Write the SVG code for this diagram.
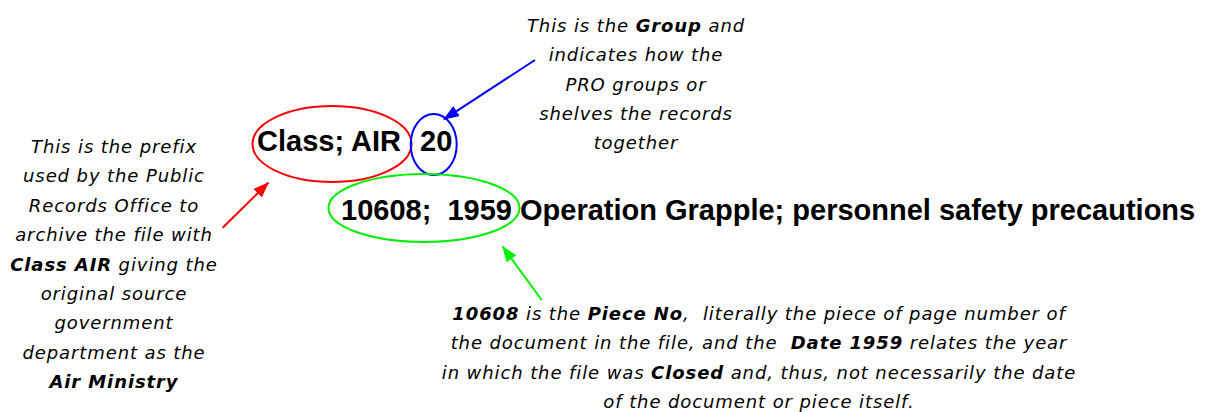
<svg xmlns="http://www.w3.org/2000/svg" width="1207" height="412" viewBox="0 0 1207 412">
<style>
.note{font-family:"DejaVu Sans",sans-serif;font-style:italic;font-size:18px;letter-spacing:0.9px;fill:#000;text-anchor:middle}
.b{font-weight:bold}
.big{font-family:"Liberation Sans",Arial,sans-serif;font-weight:bold;font-size:29px;fill:#000;white-space:pre}
.ell{fill:none;stroke-width:2}
</style>
<defs>
<marker id="ar" viewBox="0 0 16 12" refX="15" refY="6" markerWidth="16" markerHeight="12" markerUnits="userSpaceOnUse" orient="auto"><path d="M0,0 L16,6 L0,12 z" fill="#ff0000"/></marker>
<marker id="ab" viewBox="0 0 16 12" refX="15" refY="6" markerWidth="16" markerHeight="12" markerUnits="userSpaceOnUse" orient="auto"><path d="M0,0 L16,6 L0,12 z" fill="#0000ff"/></marker>
<marker id="ag" viewBox="0 0 16 12" refX="15" refY="6" markerWidth="16" markerHeight="12" markerUnits="userSpaceOnUse" orient="auto"><path d="M0,0 L16,6 L0,12 z" fill="#00ee00"/></marker>
</defs>
<rect width="1207" height="412" fill="#fff"/>
<g id="class">
<ellipse class="ell" cx="332" cy="144" rx="79.5" ry="38" stroke="#ff0000"/>
<text class="big" x="257" y="151">Class; AIR</text>
</g>
<g id="group">
<ellipse class="ell" cx="433.7" cy="144.5" rx="23" ry="30.5" stroke="#0000ff"/>
<text class="big" x="420" y="151">20</text>
</g>
<g id="piece">
<ellipse class="ell" cx="424" cy="208" rx="95.5" ry="34" stroke="#00ee00"/>
<text class="big" x="341" y="220" xml:space="preserve">10608;  1959 Operation Grapple; personnel safety precautions</text>
</g>
<g id="note-class">
<text class="note" x="114" y="153">This is the prefix</text>
<text class="note" x="114" y="182.4">used by the Public</text>
<text class="note" x="114" y="211.8">Records Office to</text>
<text class="note" x="114" y="241.2">archive the file with</text>
<text class="note" x="114" y="270.6"><tspan class="b">Class AIR</tspan> giving the</text>
<text class="note" x="114" y="300">original source</text>
<text class="note" x="114" y="329.4">government</text>
<text class="note" x="114" y="358.8">department as the</text>
<text class="note" x="114" y="388.2"><tspan class="b">Air Ministry</tspan></text>
</g>
<g id="note-group">
<text class="note" x="636" y="31.7">This is the <tspan class="b">Group</tspan> and</text>
<text class="note" x="636" y="61.1">indicates how the</text>
<text class="note" x="636" y="90.5">PRO groups or</text>
<text class="note" x="636" y="119.9">shelves the records</text>
<text class="note" x="636" y="149.3">together</text>
</g>
<g id="note-piece">
<text class="note" x="759" y="320" xml:space="preserve"><tspan class="b">10608</tspan> is the <tspan class="b">Piece No</tspan>,  literally the piece of page number of</text>
<text class="note" x="759" y="349.4" xml:space="preserve">the document in the file, and the  <tspan class="b">Date 1959</tspan> relates the year</text>
<text class="note" x="759" y="378.8">in which the file was <tspan class="b">Closed</tspan> and, thus, not necessarily the date</text>
<text class="note" x="759" y="408.2">of the document or piece itself.</text>
</g>
<g id="connectors" stroke-width="2" fill="none">
<line x1="222.7" y1="227.7" x2="268.3" y2="182.7" stroke="#ff0000" marker-end="url(#ar)"/>
<line x1="535" y1="60" x2="444" y2="119.3" stroke="#0000ff" marker-end="url(#ab)"/>
<line x1="541.7" y1="300" x2="502.7" y2="246.7" stroke="#00ee00" marker-end="url(#ag)"/>
</g>
</svg>
